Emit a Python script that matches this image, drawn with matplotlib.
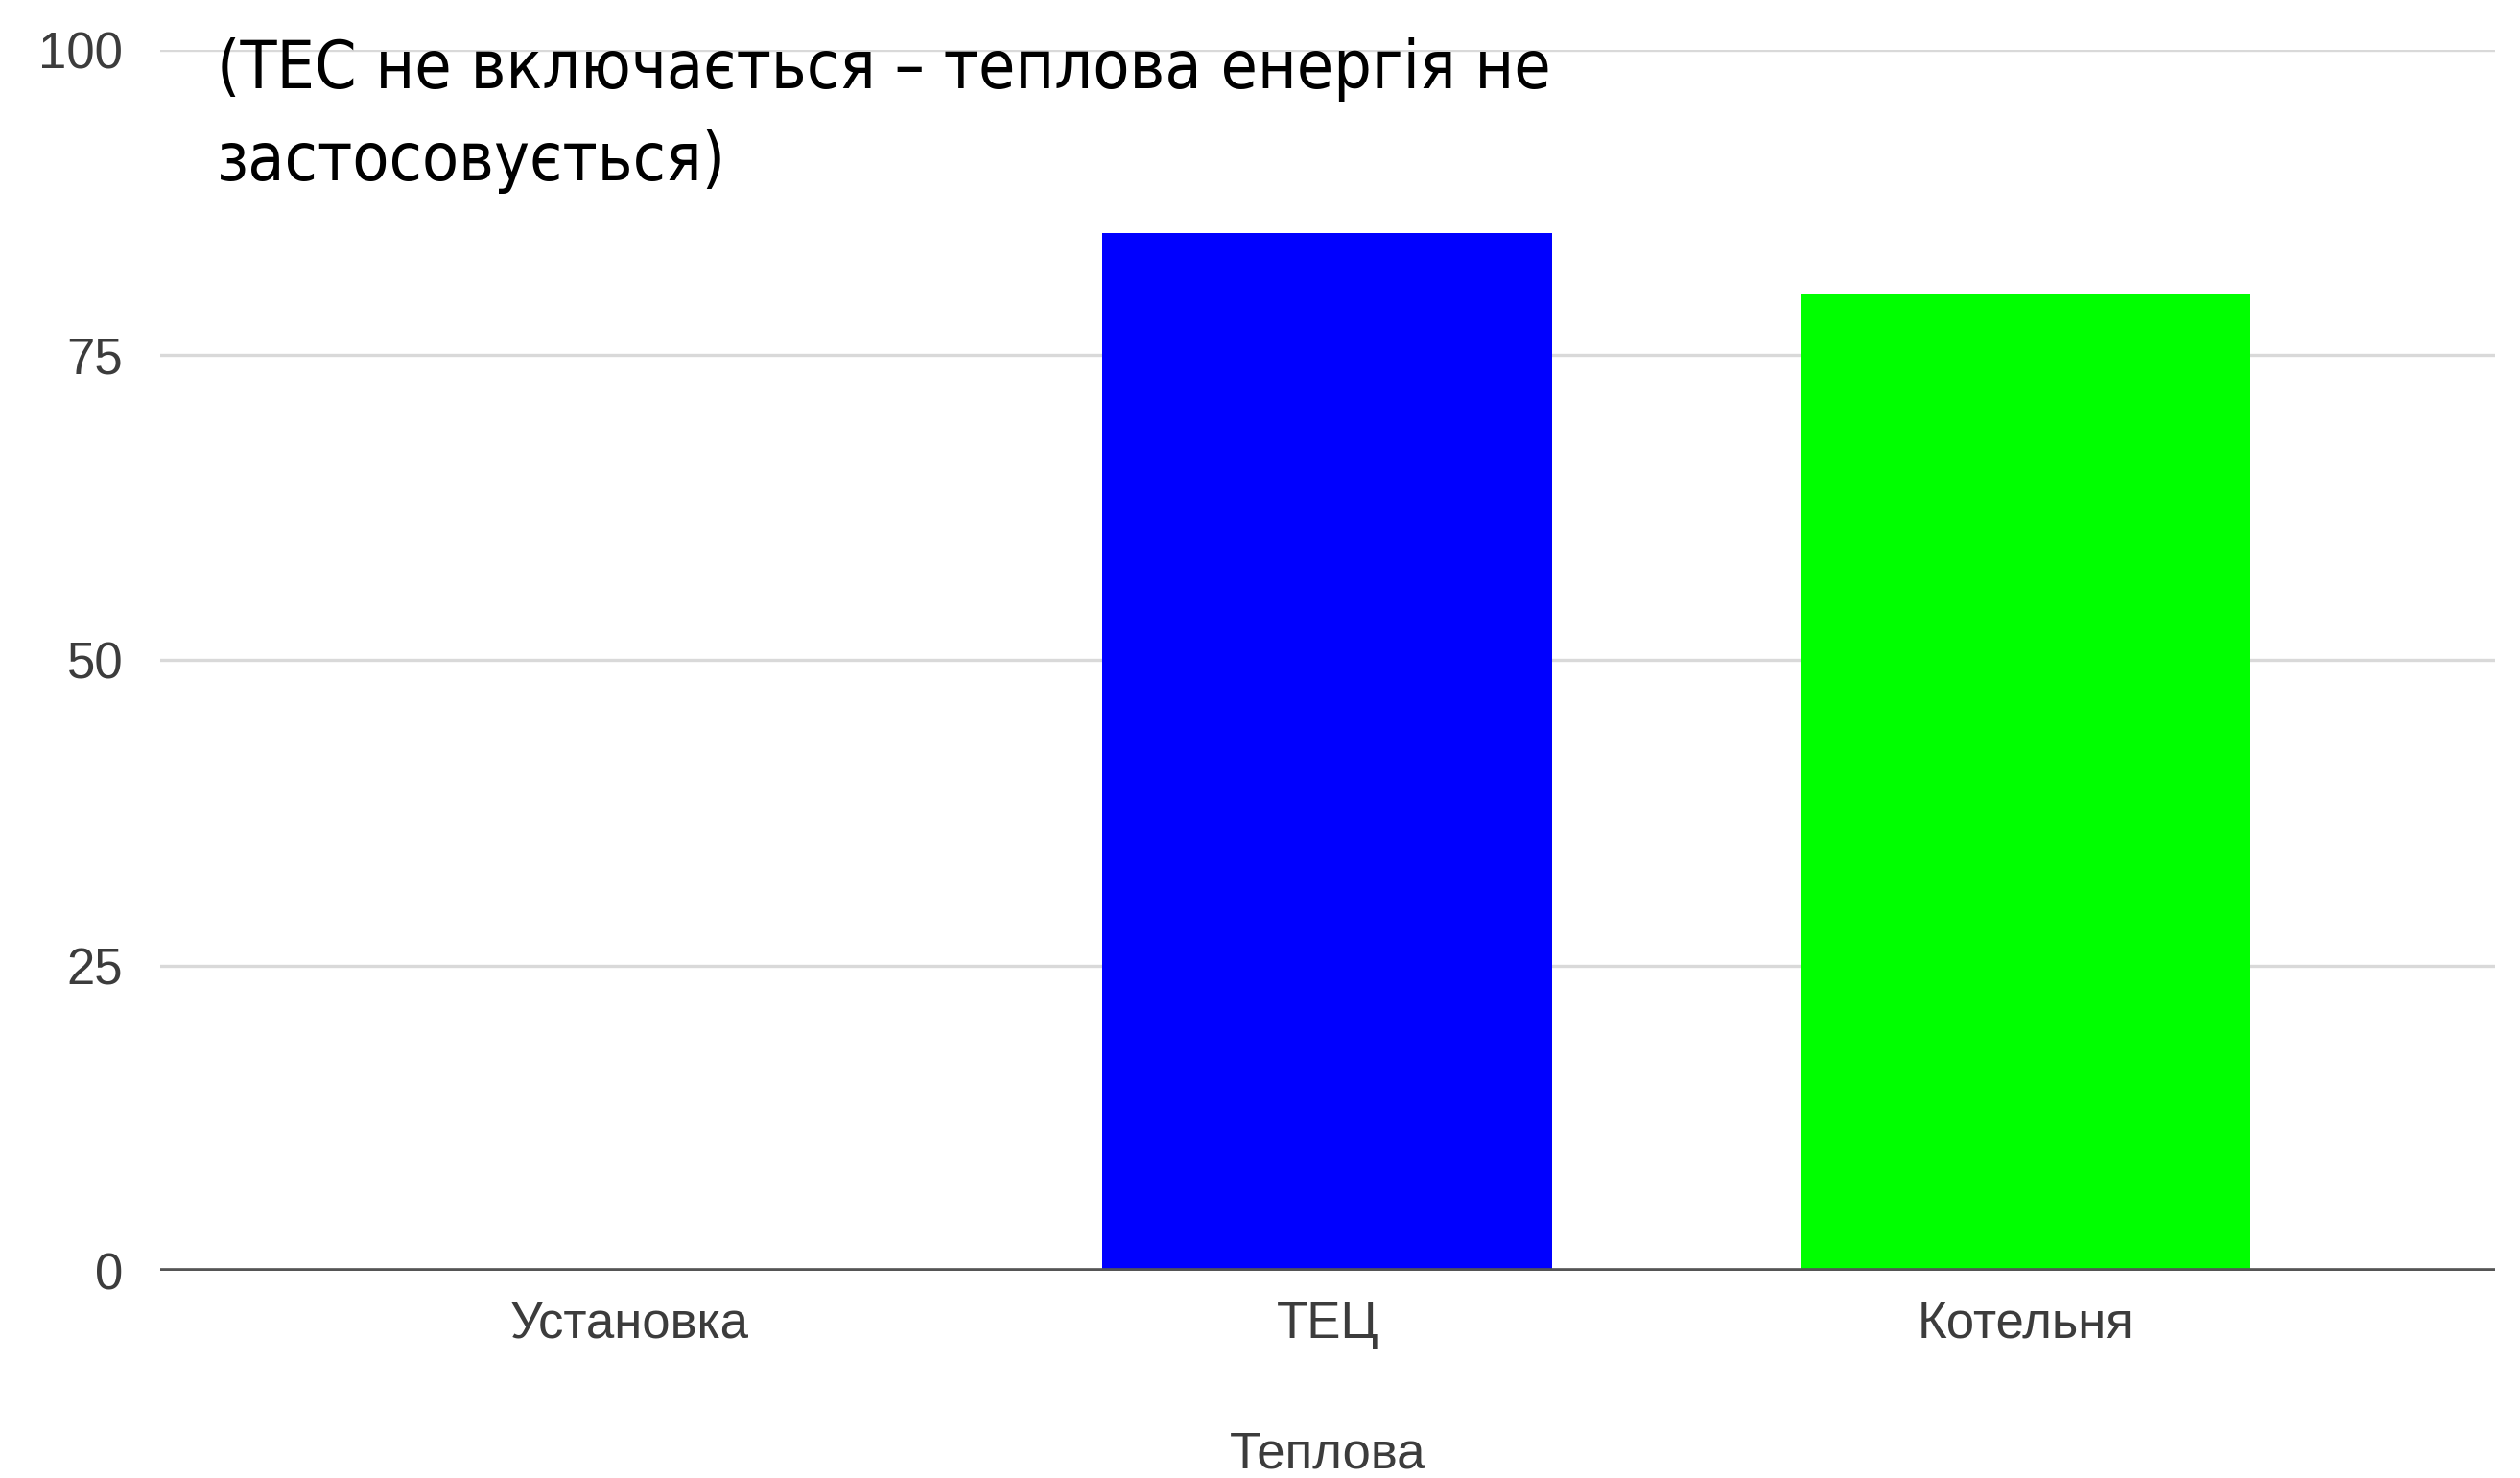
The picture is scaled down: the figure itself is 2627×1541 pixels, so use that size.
import numpy as np
import matplotlib.pyplot as plt

# Дані
categories = ['Установка', 'ТЕЦ', 'Котельня']
values = [0, 85, 80]
bar_colors = ['#0000ff', '#0000ff', '#00ff00']
y_ticks = [0, 25, 50, 75, 100]
x_title = 'Теплова'
note = '(ТЕС не включається – теплова енергія не\nзастосовується)'

fig = plt.figure(figsize=(13.135, 7.705), dpi=200)
ax = fig.add_axes([0.0636, 0.1402, 0.9264, 0.8261])

x = np.arange(len(categories))
ax.bar(x, values, width=0.645, color=bar_colors, zorder=3)

ax.set_xlim(-0.673, len(categories) - 1 + 0.673)
ax.set_ylim(0, 100)
ax.set_yticks(y_ticks)
ax.set_yticklabels([str(v) for v in y_ticks])
ax.set_xticks(x)
ax.set_xticklabels(categories)

for v in y_ticks[1:]:
    ax.axhline(v, color='#d9d9d9', linewidth=1.2, zorder=1)
ax.axhline(0, color='#555555', linewidth=2.4, zorder=4)

for side in ['top', 'right', 'left', 'bottom']:
    ax.spines[side].set_visible(False)
ax.tick_params(axis='both', length=0, labelcolor='#3c3c3c', labelsize=19)
ax.tick_params(axis='y', pad=14)
ax.tick_params(axis='x', pad=11)
for lbl in ax.get_xticklabels() + ax.get_yticklabels():
    lbl.set_fontfamily('Liberation Sans')

ax.set_xlabel(x_title, fontsize=19, color='#3c3c3c', family='Liberation Sans', labelpad=31)

fig.text(0.086, 0.975, note, ha='left', va='top', fontsize=25,
         family='DejaVu Sans', fontstretch='condensed', color='black',
         linespacing=1.55)

fig.savefig('out.png', dpi=200, facecolor='white')
